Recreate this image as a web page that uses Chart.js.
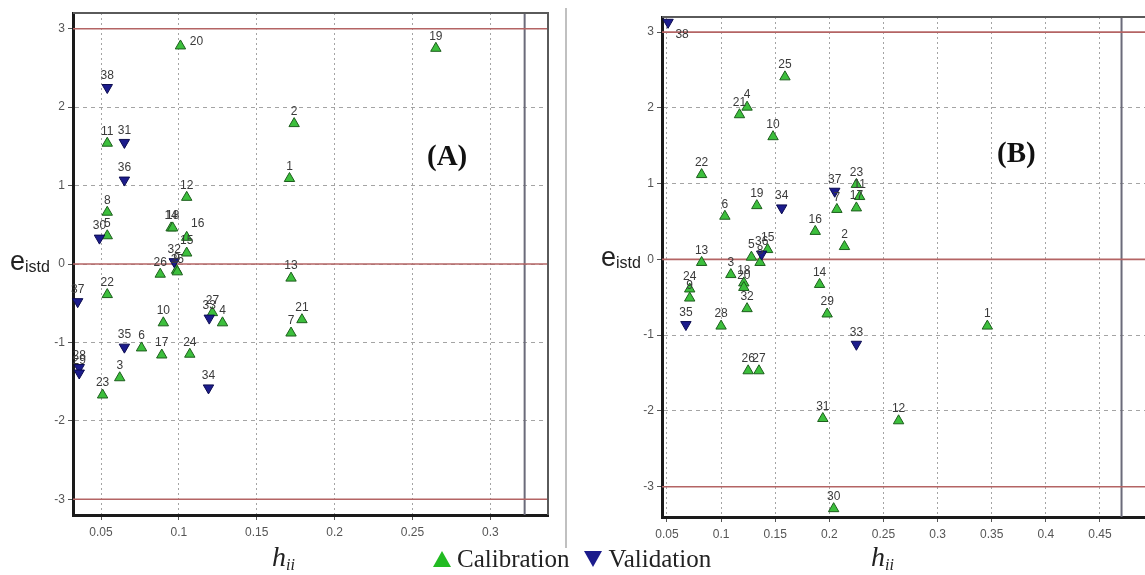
<!DOCTYPE html>
<html>
<head>
<meta charset="utf-8">
<script src="https://cdn.jsdelivr.net/npm/chart.js@4.4.0/dist/chart.umd.min.js"></script>
<style>
    body { margin: 0; width: 1145px; height: 575px; overflow: hidden; background: #fff; position: relative; font-family: Arial, "Liberation Sans", sans-serif; }
    .panel { position: absolute; top: 0; }
    #wrapA { left: 0; width: 560px; height: 545px; }
    #wrapB { left: 592px; width: 570px; height: 545px; }
    .ylab { position: absolute; color: #222; font-size: 27px; line-height: 1; }
    .ylab sub { font-size: 16px; vertical-align: -2px; }
    .xlab { position: absolute; font-family: "Liberation Serif", "DejaVu Serif", serif; font-style: italic; font-size: 28px; color: #222; line-height: 1; }
    .xlab sub { font-size: 16px; vertical-align: -4px; }
    .tag { position: absolute; font-family: "Liberation Serif", serif; font-weight: bold; font-size: 29px; color: #111; line-height: 1; }
    #sep { position: absolute; left: 565px; top: 8px; width: 2px; height: 540px; background: #c0c0c0; }
    #legend { position: absolute; left: 433px; top: 545px; font-family: "Liberation Serif", serif; font-size: 25px; color: #222; white-space: nowrap; }
    .tri { display: inline-block; width: 0; height: 0; border-left: 9px solid transparent; border-right: 9px solid transparent; margin-right: 6px; }
    .tri.up { border-bottom: 16px solid #22bb22; }
    .tri.down { border-top: 16px solid #1c1c8c; margin-left: 15px; }
</style>
</head>
<body>
<div id="wrapA" class="panel"><canvas id="chartA" width="560" height="545"></canvas></div>
<div id="wrapB" class="panel"><canvas id="chartB" width="570" height="545"></canvas></div>
<div id="sep"></div>
<div class="ylab" style="left:10px;top:248px;">e<sub>istd</sub></div>
<div class="ylab" style="left:601px;top:244px;">e<sub>istd</sub></div>
<div class="xlab" style="left:272px;top:543px;">h<sub>ii</sub></div>
<div class="xlab" style="left:871px;top:543px;">h<sub>ii</sub></div>
<div class="tag" style="left:427px;top:141px;">(A)</div>
<div class="tag" style="left:997px;top:138px;">(B)</div>
<div id="legend"><span class="tri up"></span>Calibration<span class="tri down"></span>Validation</div>
<script>
// panel A – calibration (1-27) and validation (28-38)
const calA_id = ['1','2','3','4','5','6','7','8','9','10','11','12','13','14','15','16','17','18','19','20','21','22','23','24','25','26','27'];
const calA_h = [0.171, 0.174, 0.062, 0.128, 0.054, 0.076, 0.172, 0.054, 0.0985, 0.090, 0.054, 0.105, 0.172, 0.095, 0.105, 0.105, 0.089, 0.096, 0.265, 0.101, 0.179, 0.054, 0.051, 0.107, 0.099, 0.088, 0.1215];
const calA_e = [1.09, 1.79, -1.45, -0.75, 0.36, -1.07, -0.88, 0.66, -0.08, -0.75, 1.54, 0.85, -0.18, 0.46, 0.14, 0.34, -1.16, 0.46, 2.75, 2.78, -0.71, -0.39, -1.67, -1.15, -0.10, -0.13, -0.62];
const valA_id = ['28','29','30','31','32','33','34','35','36','37','38'];
const valA_h = [0.036, 0.036, 0.049, 0.065, 0.097, 0.1195, 0.119, 0.065, 0.065, 0.035, 0.054];
const valA_e = [-1.32, -1.39, 0.33, 1.55, 0.03, -0.69, -1.58, -1.06, 1.07, -0.48, 2.25];

// panel B – calibration (1-32) and validation (33-38)
const calB_id = ['1','2','3','4','5','6','7','8','9','10','11','12','13','14','15','16','17','18','19','20','21','22','23','24','25','26','27','28','29','30','31','32'];
const calB_h = [0.346, 0.214, 0.109, 0.124, 0.128, 0.1035, 0.207, 0.136, 0.071, 0.148, 0.228, 0.264, 0.082, 0.191, 0.143, 0.187, 0.225, 0.121, 0.133, 0.121, 0.117, 0.082, 0.225, 0.071, 0.159, 0.125, 0.135, 0.100, 0.198, 0.204, 0.194, 0.124];
const calB_e = [-0.88, 0.17, -0.20, 2.01, 0.03, 0.57, 0.66, -0.04, -0.51, 1.62, 0.83, -2.13, -0.04, -0.33, 0.13, 0.37, 0.68, -0.31, 0.71, -0.37, 1.91, 1.12, 0.99, -0.39, 2.41, -1.47, -1.47, -0.88, -0.72, -3.29, -2.10, -0.65];
const valB_id = ['33','34','35','36','37','38'];
const valB_h = [0.225, 0.156, 0.0675, 0.1375, 0.205, 0.051];
const valB_e = [-1.12, 0.68, -0.86, 0.07, 0.90, 3.13];

const xTicksA = [0.05, 0.1, 0.15, 0.2, 0.25, 0.3];
const xTicksB = [0.05, 0.1, 0.15, 0.2, 0.25, 0.3, 0.35, 0.4, 0.45];
const yTicks = [-3, -2, -1, 0, 1, 2, 3];
const residualLimits = [-3, 0, 3];
const hStarA = 0.322;
const hStarB = 0.47;

const GREEN = '#3cbf3c';
const GREEN_EDGE = '#1d5e1d';
const BLUE = '#1c1c8c';
const LIMIT_RED = '#b46464';

// labels that sit somewhere other than straight above their marker
const labelShift = {
    A: { '20': [16, 8], '16': [11, -2] },
    B: { '38': [14, 24] }
};

function pts(h, e) {
    return h.map((v, i) => ({ x: v, y: e[i] }));
}

const pointLabels = {
    id: 'pointLabels',
    afterDatasetsDraw(chart) {
        const ctx = chart.ctx;
        const shifts = labelShift[chart.options.panel] || {};
        ctx.save();
        ctx.font = '12px Arial, "Liberation Sans", sans-serif';
        ctx.fillStyle = '#3a3a3a';
        ctx.textAlign = 'center';
        ctx.textBaseline = 'bottom';
        chart.data.datasets.forEach((ds, di) => {
            if (!ds.ids) return;
            chart.getDatasetMeta(di).data.forEach((el, i) => {
                const s = shifts[ds.ids[i]] || [0, 0];
                ctx.fillText(ds.ids[i], el.x + s[0], el.y - 6 + s[1]);
            });
        });
        ctx.restore();
    }
};

const frame = {
    id: 'frame',
    afterDraw(chart) {
        const { ctx, chartArea: a } = chart;
        ctx.save();
        ctx.strokeStyle = '#5a5a5a';
        ctx.lineWidth = 2;
        ctx.beginPath();
        ctx.moveTo(a.left, a.top);
        ctx.lineTo(a.right, a.top);
        ctx.lineTo(a.right, a.bottom);
        ctx.stroke();
        ctx.restore();
    }
};

function buildChart(canvasId, cfg) {
    const lineSets = residualLimits.map(v => ({
        type: 'line',
        data: [{ x: cfg.xmin, y: v }, { x: cfg.xmax, y: v }],
        borderColor: LIMIT_RED,
        borderWidth: 1.6,
        pointRadius: 0,
        order: 5
    }));
    lineSets.push({
        type: 'line',
        data: [{ x: cfg.hStar, y: cfg.ymin }, { x: cfg.hStar, y: cfg.ymax }],
        borderColor: '#6b6b7a',
        borderWidth: 2,
        pointRadius: 0,
        order: 5
    });

    return new Chart(document.getElementById(canvasId), {
        type: 'scatter',
        data: {
            datasets: [
                {
                    label: 'Calibration',
                    ids: cfg.calId,
                    data: pts(cfg.calH, cfg.calE),
                    pointStyle: 'triangle',
                    pointRadius: 6,
                    backgroundColor: GREEN,
                    borderColor: GREEN_EDGE,
                    borderWidth: 1,
                    clip: false,
                    order: 2
                },
                {
                    label: 'Validation',
                    ids: cfg.valId,
                    data: pts(cfg.valH, cfg.valE),
                    pointStyle: 'triangle',
                    rotation: 180,
                    pointRadius: 6,
                    backgroundColor: BLUE,
                    borderColor: '#0c0c50',
                    borderWidth: 1,
                    clip: false,
                    order: 1
                },
                ...lineSets
            ]
        },
        options: {
            panel: cfg.panel,
            responsive: false,
            animation: false,
            layout: { padding: cfg.padding },
            plugins: { legend: { display: false }, tooltip: { enabled: false } },
            scales: {
                x: {
                    type: 'linear',
                    min: cfg.xmin,
                    max: cfg.xmax,
                    afterBuildTicks: s => { s.ticks = cfg.xTicks.map(v => ({ value: v })); },
                    afterFit: s => { s.height = cfg.xAxisH; },
                    grid: { color: '#a4a4a4', lineWidth: 1, tickLength: 5, tickColor: '#555' },
                    border: { color: '#1a1a1a', width: 3, dash: [2, 3] },
                    ticks: {
                        color: '#555',
                        font: { size: 12, family: 'Arial, "Liberation Sans", sans-serif' },
                        padding: 5,
                        maxRotation: 0,
                        callback: v => String(+v.toFixed(2))
                    }
                },
                y: {
                    type: 'linear',
                    min: cfg.ymin,
                    max: cfg.ymax,
                    afterBuildTicks: s => { s.ticks = yTicks.map(v => ({ value: v })); },
                    afterFit: s => { s.width = cfg.yAxisW; },
                    grid: { color: '#a4a4a4', lineWidth: 1, tickLength: 5, tickColor: '#555' },
                    border: { color: '#1a1a1a', width: 3, dash: [4, 4] },
                    ticks: {
                        color: '#555',
                        font: { size: 12, family: 'Arial, "Liberation Sans", sans-serif' },
                        padding: 3,
                        callback: v => String(v)
                    }
                }
            }
        },
        plugins: [pointLabels, frame]
    });
}

buildChart('chartA', {
    panel: 'A',
    calId: calA_id, calH: calA_h, calE: calA_e,
    valId: valA_id, valH: valA_h, valE: valA_e,
    xTicks: xTicksA,
    xmin: 0.032, xmax: 0.337, ymin: -3.2, ymax: 3.2,
    hStar: hStarA,
    padding: { top: 13, right: 12, left: 0, bottom: 0 },
    yAxisW: 73, xAxisH: 30
});

buildChart('chartB', {
    panel: 'B',
    calId: calB_id, calH: calB_h, calE: calB_e,
    valId: valB_id, valH: valB_h, valE: valB_e,
    xTicks: xTicksB,
    xmin: 0.0454, xmax: 0.5, ymin: -3.4, ymax: 3.2,
    hStar: hStarB,
    padding: { top: 17, right: 8, left: 0, bottom: 0 },
    yAxisW: 70, xAxisH: 28
});
</script>
</body>
</html>
